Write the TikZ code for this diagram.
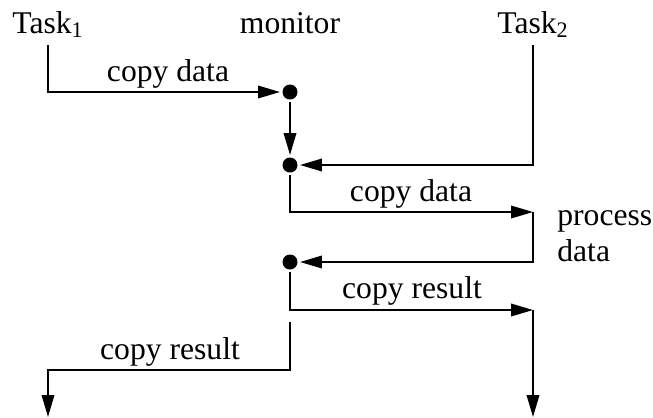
\documentclass[tikz,border=0pt]{standalone}
\usepackage{fontspec}
\setmainfont{Liberation Serif}
\usetikzlibrary{arrows.meta,positioning}
\tikzset{
  flowArrow/.style={-{Triangle[length=0.44cm,width=0.25cm]}, line width=0.04cm, draw=black}
}
\begin{document}
\begin{tikzpicture}[x=0.02cm, y=-0.02cm,
        dot/.style={circle, fill=black, inner sep=0pt, minimum size=0.3cm, outer sep=0.05cm},
        task/.style={font=\fontsize{18}{20}\selectfont, inner sep=0.15cm, anchor=base},
        lbl/.style={font=\fontsize{18}{20}\selectfont, inner sep=0pt, anchor=base}]
        \useasboundingbox (0,0) rectangle (653,417);
        \node[task] (t1) at (48,33) {Task\textsubscript{1}};
        \node[task] (mon) at (290,33) {monitor};
        \node[task] (t2) at (533,33) {Task\textsubscript{2}};
        \node[dot] (m1) at (290,92) {};
        \node[dot] (m2) at (290,165) {};
        \node[dot] (m3) at (290,262) {};
        \coordinate (p1) at (533,212);
        \coordinate (r1) at (533,310);
        \coordinate (s1) at (290,322);
        \coordinate (k1) at (290,370);
        \coordinate (e1) at (48,417);
        \coordinate (e2) at (533,417);
        \draw[flowArrow] (t1) |- (m1);
        \draw[flowArrow] (m1) -- (m2);
        \draw[flowArrow] (t2) |- (m2);
        \draw[flowArrow] (m2) |- (p1);
        \draw[flowArrow] (p1) |- (m3);
        \draw[flowArrow] (m3) |- (r1);
        \draw[flowArrow] (r1) -- (e2);
        \draw[flowArrow] (s1) -- (k1) -| (e1);
        \node[lbl] (cd1) at (168,81) {copy data};
        \node[lbl] (cd2) at (411,201) {copy data};
        \node[lbl] (cr1) at (412,298) {copy result};
        \node[lbl] (cr2) at (170,359) {copy result};
        \node[lbl, anchor=base west, align=left] (proc) at (557,261) {process\\data};
      \end{tikzpicture}
\end{document}
